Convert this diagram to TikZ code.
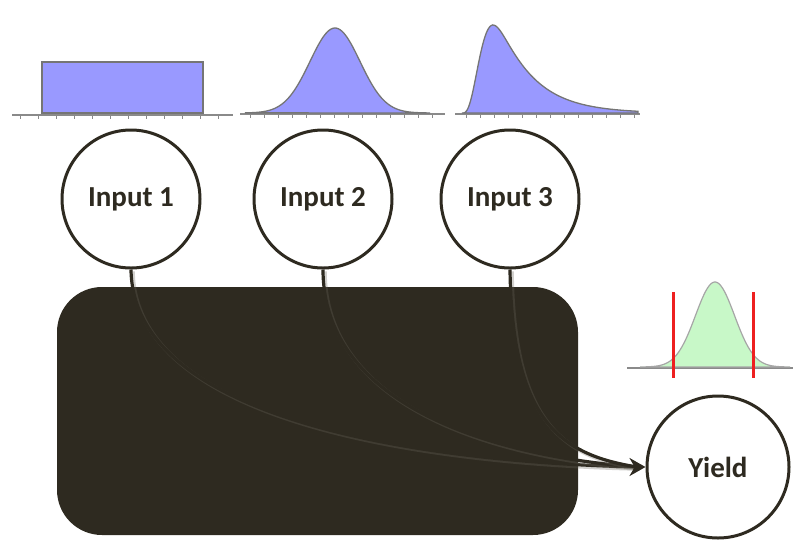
\documentclass[tikz,border=0pt]{standalone}
\usepackage{fontspec}
\setmainfont{Carlito}
\usetikzlibrary{arrows.meta}
\definecolor{ink}{HTML}{2E2A20}
\definecolor{halo}{HTML}{6A665C}
\definecolor{distfill}{HTML}{9999FF}
\definecolor{yieldfill}{HTML}{C8F8C8}
\definecolor{axisgray}{HTML}{8A8A8A}
\definecolor{redmark}{HTML}{EE2020}
\tikzset{
  var/.style={circle, draw=ink, line width=3pt, fill=white, minimum size=138pt,
    inner sep=0pt, font=\bfseries\fontsize{29}{30}\selectfont, text=ink},
  curve/.style={draw=axisgray!85!black, line width=1.3pt},
  axis/.style={draw=axisgray, line width=1.5pt},
  tick/.style={draw=axisgray, line width=0.8pt},
  link/.style={draw=ink, line width=3.2pt},
  linkhalo/.style={draw=halo, line width=4pt, opacity=0.3},
  redline/.style={draw=redmark, line width=3pt}
}
\begin{document}
\begin{tikzpicture}[x=1pt, y=-1pt]
  \useasboundingbox (0,0) rectangle (793,542);

  % model block
  \fill[ink, rounded corners=45pt] (57,287) rectangle (578,535);

  % input distributions
  % uniform
  \draw[axis] (12,115) -- (233,115);
  \foreach \t in {20,38,...,230} \draw[tick] (\t,115) -- (\t,119);
  \filldraw[fill=distfill, curve] (42,113) rectangle (203,62);

  % normal
  \draw[axis] (240,114) -- (445,114);
  \foreach \t in {250,264,...,445} \draw[tick] (\t,114) -- (\t,118);
  \filldraw[fill=distfill, curve] plot[domain=245:430, samples=100, smooth]
    (\x, {113 - 85*exp(-((\x-335)/25)^2/2)}) -- cycle;

  % right-skewed: steep rise, long tail
  \draw[axis] (455,114) -- (640,114);
  \foreach \t in {466,480,...,640} \draw[tick] (\t,114) -- (\t,118);
  \filldraw[fill=distfill, curve]
    plot[domain=0:31, samples=40, smooth]
      ({462+\x}, {113 - 88*pow(\x/31,3.5)*exp(-3.5*(\x/31-1))})
    -- plot[domain=0:145, samples=80, smooth]
      ({493+\x}, {113 - 88*exp(-0.29*(sqrt(1+(\x/10)^2)-1))})
    -- (638,113) -- cycle;

  % output distribution
  \draw[axis] (627,368) -- (793,368);
  \filldraw[fill=yieldfill, draw=gray!70, line width=1.2pt] plot[domain=640:790, samples=90, smooth]
    (\x, {367 - 85*exp(-((\x-715)/19.5)^2/2)}) -- cycle;
  \draw[redline] (673,292) -- (673,378);
  \draw[redline] (753,292) -- (753,378);

  % variables
  \node[var] (in1) at (131,199) {Input 1};
  \node[var] (in2) at (323,199) {Input 2};
  \node[var] (in3) at (510,199) {Input 3};
  \node[var, minimum size=142pt] (yield) at (718,467) {Yield};

  % connectors, each with a soft shadow offset to the lower right
  \foreach \src/\ca/\cb in {in1/{(133,420)}/{(420,462)}, in2/{(323,400)}/{(480,455)}, in3/{(512,420)}/{(560,455)}} {
    \path[linkhalo, transform canvas={xshift=1.8pt, yshift=-1.8pt}] (\src.south) .. controls \ca and \cb .. ([xshift=-8pt]yield.west);
    \path[link] (\src.south) .. controls \ca and \cb .. ([xshift=-8pt]yield.west);
  }
  \path[link, -{Stealth[length=16pt, width=18pt]}] ([xshift=-12pt]yield.west) -- (yield.west);
\end{tikzpicture}
\end{document}
